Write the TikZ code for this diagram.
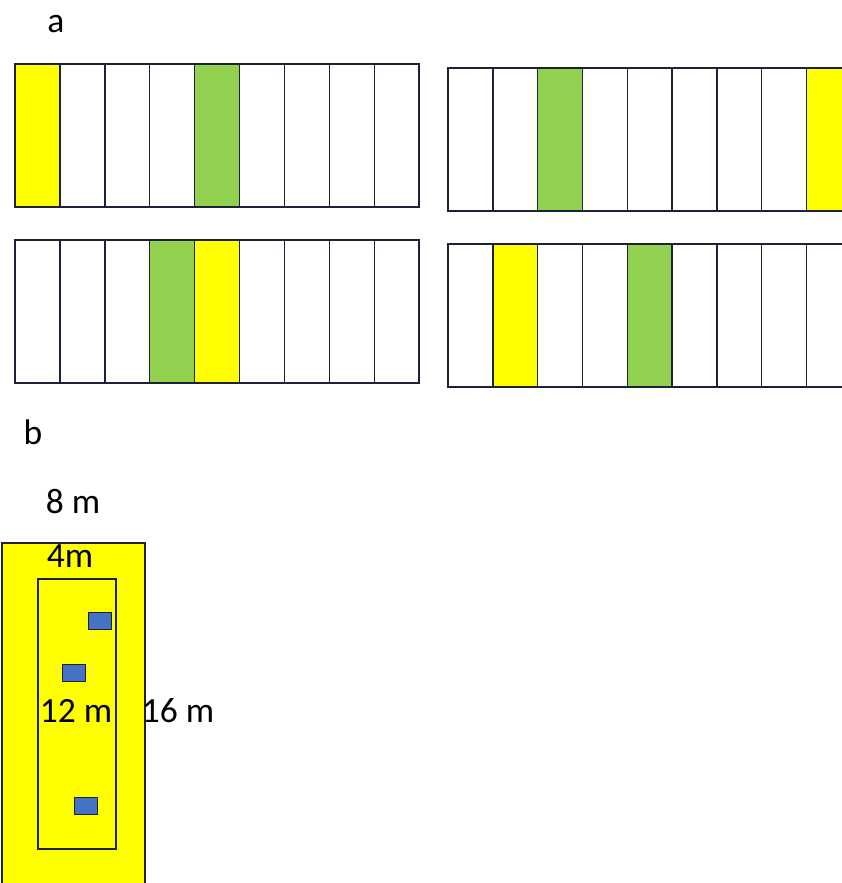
\documentclass[tikz,border=0pt]{standalone}
\usepackage{fontspec}
\setmainfont{Carlito}
\usetikzlibrary{positioning}

\definecolor{stripyellow}{HTML}{FFFF00}
\definecolor{stripgreen}{HTML}{92D050}
\definecolor{treeblue}{HTML}{4472C4}
\definecolor{edgenavy}{HTML}{1C2236}

\begin{document}
\begin{tikzpicture}[x=1pt,y=-1pt,
            strip/.style={draw=edgenavy,line width=1.4pt,minimum width=44.9pt,minimum height=143pt,inner sep=0pt,outer sep=0pt,anchor=north west},
            lab/.style={font=\fontsize{35.5}{42}\selectfont,anchor=base,inner sep=0pt},
            plot/.style={draw=edgenavy,line width=1.2pt,inner sep=0pt,outer sep=0pt,anchor=north west},
            tree/.style={draw=edgenavy,fill=treeblue,line width=1pt,minimum width=23pt,minimum height=17pt,inner sep=0pt}
          ]
          \useasboundingbox (0,0) rectangle (842,883);

          %panel a
          \node[lab] (la) at (56,33) {a};
          \foreach \c [count=\i from 0] in {stripyellow,white,white,white,stripgreen,white,white,white,white}
            \node[strip,fill=\c] (tl\i) at (15+44.9*\i,64) {};
          \foreach \c [count=\i from 0] in {white,white,stripgreen,white,white,white,white,white,stripyellow}
            \node[strip,fill=\c] (tr\i) at (448+44.8*\i,68) {};
          \foreach \c [count=\i from 0] in {white,white,white,stripgreen,stripyellow,white,white,white,white}
            \node[strip,fill=\c] (bl\i) at (15+44.9*\i,240) {};
          \foreach \c [count=\i from 0] in {white,stripyellow,white,white,stripgreen,white,white,white,white}
            \node[strip,fill=\c] (br\i) at (448+44.8*\i,244) {};

          %panel b
          \node[lab] (lb) at (33,444) {b};
          \node[plot,fill=stripyellow,minimum width=143pt,minimum height=360pt] (field) at (2,543) {};
          \node[plot,minimum width=78pt,minimum height=270pt] (core) at (38,579) {};
          \node[tree] (t1) at (100,621) {};
          \node[tree] (t2) at (74,673) {};
          \node[tree] (t3) at (86,805.5) {};

          %labels
          \node[lab] (w8) at (73,513) {8 m};
          \node[lab] (w4) at (70,567) {4m};
          \node[lab] (h12) at (76,722) {12 m};
          \node[lab] (h16) at (178,722) {16 m};
      \end{tikzpicture}
\end{document}
